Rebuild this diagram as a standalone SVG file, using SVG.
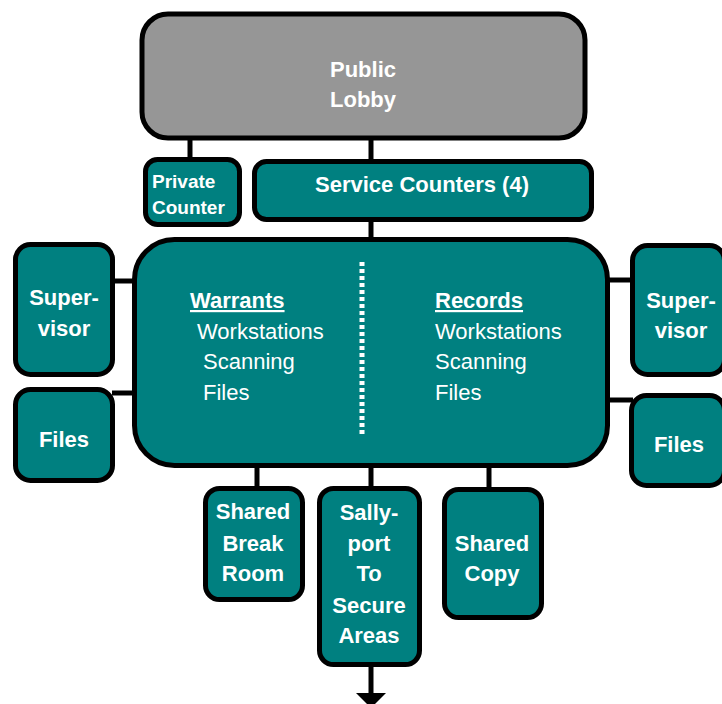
<svg xmlns="http://www.w3.org/2000/svg" width="722" height="704" viewBox="0 0 722 704">
<defs>
<style>
.box{fill:#008080;stroke:#000;stroke-width:5}
.gray{fill:#969696;stroke:#000;stroke-width:5}
.conn{stroke:#000;stroke-width:5;fill:none}
.b{font-family:"Liberation Sans",Arial,sans-serif;font-weight:bold;fill:#fff;text-anchor:middle;font-size:22px}
.n{font-family:"Liberation Sans",Arial,sans-serif;fill:#fff;font-size:22px}
</style>
<marker id="arr" markerWidth="6" markerHeight="4" refX="3" refY="2" orient="auto" markerUnits="strokeWidth"><path d="M0,0 L6,2 L0,4 Z" fill="#000"/></marker>
</defs>
<rect width="722" height="704" fill="#fff"/>
<g id="connectors">
<line class="conn" x1="190" y1="138" x2="190" y2="160"/>
<line class="conn" x1="371" y1="138" x2="371" y2="162"/>
<line class="conn" x1="371" y1="220" x2="371" y2="240"/>
<line class="conn" x1="112" y1="281" x2="135" y2="281"/>
<line class="conn" x1="112" y1="393" x2="135" y2="393"/>
<line class="conn" x1="607" y1="280" x2="633" y2="280"/>
<line class="conn" x1="607" y1="400" x2="633" y2="400"/>
<line class="conn" x1="257" y1="465" x2="257" y2="489"/>
<line class="conn" x1="371" y1="465" x2="371" y2="489"/>
<line class="conn" x1="489" y1="465" x2="489" y2="490"/>
<line class="conn" x1="371" y1="664" x2="371" y2="695"/>
<path d="M356,693 L386,693 L371,708 Z" fill="#000"/>
</g>
<g id="lobby">
<rect class="gray" x="142" y="14" width="443" height="124" rx="26"/>
<text class="b" x="363" y="77">Public</text>
<text class="b" x="363" y="107">Lobby</text>
</g>
<g id="private-counter">
<rect class="box" x="145.5" y="159.5" width="94" height="65" rx="12"/>
<text class="b" x="152" y="188" style="text-anchor:start;font-size:19px">Private</text>
<text class="b" x="152" y="214" style="text-anchor:start;font-size:19px">Counter</text>
</g>
<g id="service-counters">
<rect class="box" x="254.5" y="161.5" width="337" height="58" rx="12"/>
<text class="b" x="422" y="192">Service Counters (4)</text>
</g>
<g id="main">
<rect class="box" x="134.5" y="239.5" width="473" height="226" rx="40"/>
<line x1="362" y1="262" x2="362" y2="434" stroke="#fff" stroke-width="5" stroke-dasharray="4,3"/>
<text class="n" x="190" y="308" style="font-weight:bold;text-decoration:underline">Warrants</text>
<text class="n" x="197" y="339">Workstations</text>
<text class="n" x="203" y="369">Scanning</text>
<text class="n" x="203" y="400">Files</text>
<text class="n" x="435" y="308" style="font-weight:bold;text-decoration:underline">Records</text>
<text class="n" x="435" y="339">Workstations</text>
<text class="n" x="435" y="369">Scanning</text>
<text class="n" x="435" y="400">Files</text>
</g>
<g id="supervisor-left">
<rect class="box" x="15.5" y="244.5" width="97" height="130" rx="15"/>
<text class="b" x="64" y="305">Super-</text>
<text class="b" x="64" y="336">visor</text>
</g>
<g id="files-left">
<rect class="box" x="15.5" y="389.5" width="97" height="91" rx="15"/>
<text class="b" x="64" y="447">Files</text>
</g>
<g id="supervisor-right">
<rect class="box" x="632.5" y="245.5" width="92" height="129" rx="15"/>
<text class="b" x="681" y="308">Super-</text>
<text class="b" x="681" y="338">visor</text>
</g>
<g id="files-right">
<rect class="box" x="631.5" y="395.5" width="93" height="90" rx="15"/>
<text class="b" x="679" y="452">Files</text>
</g>
<g id="break-room">
<rect class="box" x="205.5" y="488.5" width="97" height="111" rx="14"/>
<text class="b" x="253" y="519">Shared</text>
<text class="b" x="253" y="551">Break</text>
<text class="b" x="253" y="581">Room</text>
</g>
<g id="sallyport">
<rect class="box" x="319.5" y="488.5" width="100" height="176" rx="14"/>
<text class="b" x="369" y="520">Sally-</text>
<text class="b" x="369" y="551">port</text>
<text class="b" x="369" y="581">To</text>
<text class="b" x="369" y="613">Secure</text>
<text class="b" x="369" y="643">Areas</text>
</g>
<g id="shared-copy">
<rect class="box" x="444.5" y="489.5" width="97" height="128" rx="14"/>
<text class="b" x="492" y="551">Shared</text>
<text class="b" x="492" y="581">Copy</text>
</g>
</svg>
